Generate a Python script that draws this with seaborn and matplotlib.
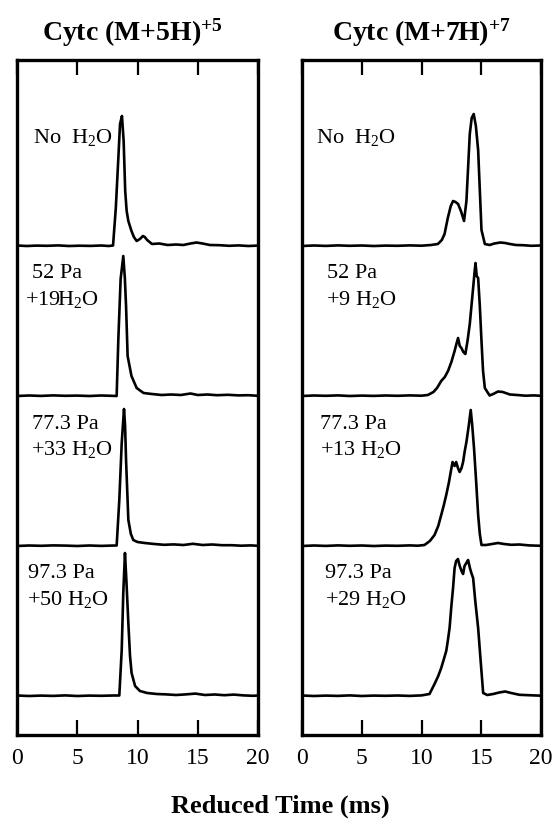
import matplotlib
matplotlib.use("Agg")
import matplotlib.pyplot as plt
import pandas as pd
import seaborn as sns

# ---- arrival-time distributions, Cytc (M+5H)+5 ----
t_p5_a = [0, 0.8, 1.6, 2.5, 3.4, 4.3, 5.2, 6.1, 7.0, 7.6, 7.97, 8.2, 8.41, 8.55, 8.71, 8.85,
          8.98, 9.1, 9.24, 9.5, 9.7, 9.93, 10.2, 10.45, 10.6, 10.8, 11.2, 11.8, 12.5, 13.2,
          13.8, 14.4, 14.9, 15.4, 16.0, 16.8, 17.6, 18.4, 19.2, 20]
i_p5_a = [0.5, 0, 0.4, 0.2, 0.6, 0, 0.3, 0.1, 0.5, 0, 0.5, 38, 88, 122, 130, 105,
          55, 35, 25, 15, 9, 5, 7, 10, 9, 6, 2, 2.5, 1, 1.5,
          1, 2.5, 3.5, 2.5, 1, 0.8, 0.2, 0.6, 0, 0.4]

t_p5_b = [0, 1, 2, 3, 4, 5, 6, 7, 7.8, 8.27, 8.41, 8.6, 8.82, 8.95, 9.05, 9.18, 9.5, 9.93,
          10.5, 11.2, 12, 12.8, 13.6, 14.4, 15.0, 15.8, 16.6, 17.5, 18.4, 19.2, 20]
i_p5_b = [0, 0.5, 0.1, 0.6, 0.2, 0.4, 0, 0.5, 0.2, 0, 57, 117, 140, 118, 90, 40, 20, 8,
          3, 2, 1, 1.5, 1, 2.5, 1, 1.5, 0.8, 1.2, 0.6, 0.8, 0.2]

t_p5_c = [0, 1, 2, 3, 4, 5, 6, 7, 7.8, 8.27, 8.49, 8.69, 8.88, 8.97, 9.05, 9.24, 9.45, 9.65,
          10.0, 10.6, 11.4, 12.2, 13.0, 13.8, 14.6, 15.4, 16.2, 17.0, 17.8, 18.6, 19.4, 20]
i_p5_c = [0, 0.5, 0.2, 0.6, 0.4, 0, 0.5, 0.1, 0.4, 0.5, 46, 103, 137, 120, 86, 26, 12, 6,
          4, 3, 2, 1.2, 1.6, 1, 2.2, 1, 1.5, 0.8, 0.8, 0.3, 0.6, 0.2]

t_p5_d = [0, 1, 2, 3, 4, 5, 6, 7, 8, 8.49, 8.69, 8.82, 8.96, 9.08, 9.24, 9.38, 9.51, 9.8,
          10.2, 10.8, 11.6, 12.4, 13.2, 14.0, 14.8, 15.6, 16.4, 17.2, 18.0, 18.8, 19.6, 20]
i_p5_d = [0.5, 0, 0.4, 0.1, 0.6, 0, 0.4, 0.2, 0.5, 0.5, 46, 103, 143, 115, 73, 40, 23, 10,
          5, 3, 2, 1.6, 1, 1.6, 2.4, 1, 1.5, 0.8, 1.4, 0.6, 0.2, 0.5]

# ---- arrival-time distributions, Cytc (M+7H)+7 ----
t_p7_a = [0, 1, 2, 3, 4, 5, 6, 7, 8, 9, 10, 10.8, 11.37, 11.7, 11.93, 12.2, 12.45, 12.64,
          12.85, 13.06, 13.3, 13.56, 13.76, 14.04, 14.2, 14.37, 14.55, 14.74, 14.9, 15.02,
          15.3, 15.7, 16.1, 16.6, 17.0, 17.4, 17.9, 18.5, 19.2, 20]
i_p7_a = [0, 0.5, 0.1, 0.6, 0.2, 0.5, 0, 0.4, 0.2, 0.6, 0.3, 1, 2, 6, 12, 28, 40, 45,
          44, 42, 35, 25, 45, 112, 128, 132, 120, 96, 50, 16,
          2, 1, 2.5, 3.5, 3, 2, 1, 0.8, 0.2, 0.5]

t_p7_b = [0, 1, 2, 3, 4, 5, 6, 7, 8, 9, 10, 10.53, 11.0, 11.3, 11.65, 11.95, 12.22, 12.5,
          12.77, 12.92, 13.06, 13.2, 13.34, 13.5, 13.67, 13.85, 14.04, 14.32, 14.45, 14.52,
          14.62, 14.74, 14.88, 15.02, 15.15, 15.3, 15.7, 16.0, 16.4, 16.8, 17.4, 18.0, 18.7,
          19.4, 20]
i_p7_b = [0, 0.5, 0.2, 0.6, 0, 0.4, 0.1, 0.5, 0.2, 0.6, 0.3, 1, 4, 8, 15, 19, 25, 34,
          45, 52, 58, 50, 48, 44, 42, 55, 72, 108, 125, 133,
          120, 118, 90, 55, 25, 8, 0.5, 2, 4.5, 4, 1.5, 1, 0.3,
          0.6, 0.2]

t_p7_c = [0, 1, 2, 3, 4, 5, 6, 7, 8, 9, 9.7, 10.25, 10.7, 11.09, 11.4, 11.65, 11.85, 12.07,
          12.3, 12.49, 12.6, 12.77, 12.9, 13.05, 13.19, 13.35, 13.48, 13.62, 13.76, 13.95,
          14.12, 14.25, 14.4, 14.57, 14.74, 14.88, 15.02, 15.4, 15.9, 16.4, 16.9, 17.5, 18.2,
          19.0, 20]
i_p7_c = [0, 0.5, 0.1, 0.6, 0.2, 0.5, 0, 0.4, 0.2, 0.6, 0.3, 1, 5, 11, 20, 31, 40, 51,
          64, 77, 84, 80, 84, 78, 74, 78, 84, 95, 104, 120,
          136, 120, 97, 65, 31, 12, 1, 1, 2, 3, 2, 1.2, 1.5,
          0.6, 0.2]

t_p7_d = [0, 1, 2, 3, 4, 5, 6, 7, 8, 9, 10, 10.67, 11.09, 11.4, 11.65, 11.85, 12.07, 12.2,
          12.35, 12.5, 12.64, 12.77, 12.9, 13.05, 13.2, 13.35, 13.48, 13.6, 13.75, 13.9,
          14.05, 14.2, 14.32, 14.5, 14.74, 14.95, 15.16, 15.5, 16.0, 16.5, 17.0, 17.5, 18.2,
          19.0, 20]
i_p7_d = [0.5, 0, 0.4, 0.1, 0.6, 0, 0.4, 0.2, 0.5, 0.1, 0.6, 2, 12, 20, 28, 36, 45, 55,
          68, 90, 108, 128, 135, 137, 130, 125, 122, 130, 133, 136,
          128, 122, 118, 95, 68, 35, 3, 1, 2, 3.5, 4.5, 3, 1.2, 0.8, 0.3]

# condition labels, top row first
pressure_p5 = ["", "52 Pa", "77.3 Pa", "97.3 Pa"]
water_p5 = ["No  H$_2$O", "+19H$_2$O", "+33 H$_2$O", "+50 H$_2$O"]
pressure_p7 = ["", "52 Pa", "77.3 Pa", "97.3 Pa"]
water_p7 = ["No  H$_2$O", "+9 H$_2$O", "+13 H$_2$O", "+29 H$_2$O"]

titles = ["Cytc (M+5H)$^{\\mathbf{+5}}$", "Cytc (M+7H)$^{\\mathbf{+7}}$"]
x_ticks = [0, 5, 10, 15, 20]
x_label = "Reduced Time (ms)"

sns.set_theme(style="white")
plt.rcParams["font.family"] = ["Liberation Serif", "DejaVu Serif"]
plt.rcParams["text.color"] = "black"
plt.rcParams["xtick.color"] = "black"
plt.rcParams["mathtext.fontset"] = "custom"
plt.rcParams["mathtext.rm"] = "Liberation Serif"
plt.rcParams["mathtext.it"] = "Liberation Serif:italic"
plt.rcParams["mathtext.bf"] = "Liberation Serif:bold"

panels = [
    dict(traces=[(t_p5_a, i_p5_a), (t_p5_b, i_p5_b), (t_p5_c, i_p5_c), (t_p5_d, i_p5_d)],
         pressure=pressure_p5, water=water_p5, title=titles[0],
         rect=[17 / 560, 87 / 822, 241 / 560, 675 / 822], title_x=132 / 560,
         px=[1.3, 1.25, 1.25, 0.9], wx=[1.3, 0.66, 1.16, 0.83]),
    dict(traces=[(t_p7_a, i_p7_a), (t_p7_b, i_p7_b), (t_p7_c, i_p7_c), (t_p7_d, i_p7_d)],
         pressure=pressure_p7, water=water_p7, title=titles[1],
         rect=[302 / 560, 87 / 822, 239 / 560, 675 / 822], title_x=421 / 560,
         px=[1.2, 2.1, 1.5, 1.9], wx=[1.2, 2.05, 1.5, 1.9]),
]

ROW = 150.0       # vertical spacing between stacked traces
BASE = 39.0       # baseline of the lowest trace
TOP = 675.0       # y extent of each panel

fig = plt.figure(figsize=(5.6, 8.22), dpi=100)

for p in panels:
    ax = fig.add_axes(p["rect"])
    n = len(p["traces"])
    for k, (t, y) in enumerate(p["traces"]):
        offset = BASE + ROW * (n - 1 - k)
        df = pd.DataFrame({"t": t, "y": [v + offset for v in y]})
        sns.lineplot(data=df, x="t", y="y", ax=ax, color="black", lw=1.9,
                     estimator=None, sort=True)
        if p["pressure"][k]:
            ax.text(p["px"][k], offset + 122, p["pressure"][k], fontsize=16,
                    ha="left", va="center", color="black")
            ax.text(p["wx"][k], offset + 97, p["water"][k], fontsize=16,
                    ha="left", va="center", color="black")
        else:
            ax.text(p["wx"][k], offset + 109, p["water"][k], fontsize=16,
                    ha="left", va="center", color="black")

    ax.set_xlim(0, 20)
    ax.set_ylim(0, TOP)
    ax.set_xticks(x_ticks)
    ax.set_xticklabels([str(v) for v in x_ticks], fontsize=17)
    ax.set_yticks([])
    ax.set_xlabel("")
    ax.set_ylabel("")
    ax.tick_params(axis="x", direction="in", length=11, width=1.6, top=True,
                   bottom=True, labeltop=False, pad=9, colors="black")
    for s in ax.spines.values():
        s.set_visible(True)
        s.set_linewidth(2.4)
        s.set_color("black")
    fig.text(p["title_x"], 1 - 33 / 822, p["title"], fontsize=20, fontweight="bold",
             ha="center", va="center", color="black")

fig.text(0.5, 1 - 806 / 822, x_label, fontsize=19, fontweight="bold",
         ha="center", va="center", color="black")

fig.savefig("out.png", dpi=100, facecolor="white")
